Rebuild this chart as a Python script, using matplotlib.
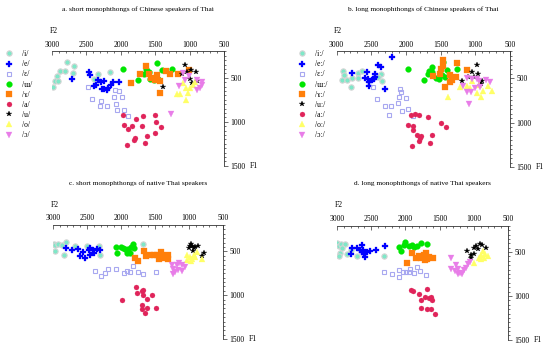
from matplotlib import pyplot as plt
from matplotlib.lines import Line2D
from matplotlib.ticker import MultipleLocator

plt.rcParams['font.family'] = ['Liberation Serif', 'DejaVu Serif']

# (F2, F1) pairs
# a. short monophthongs of Chinese speakers of Thai
a_i = [(2776, 318), (2683, 360), (2888, 424), (2810, 424), (2693, 443), (2927, 481), (2961, 538),
       (2912, 538), (2990, 606), (2328, 458), (2157, 432), (2391, 515)]
a_e = [(2459, 432), (2449, 466), (2703, 508), (2337, 519), (2366, 576), (2391, 595), (2289, 549),
       (2245, 538), (2279, 629), (2240, 621), (2206, 633), (2181, 610), (2142, 580), (2108, 545), (2030, 545)]
a_eh = [(2474, 602), (2420, 742), (2293, 761), (2303, 822), (2206, 822), (2084, 633), (2021, 648),
        (2098, 723), (1982, 716), (2069, 792), (2050, 867), (1952, 860), (1889, 936)]
a_ue = [(1962, 405), (1748, 527), (1670, 458), (1636, 394), (1621, 424), (1582, 515), (1523, 519),
        (1485, 489), (1465, 511), (1475, 330), (1402, 413), (1260, 405), (1587, 432)]
a_ou = [(1855, 557), (1718, 451), (1636, 367), (1562, 496), (1475, 462), (1499, 527), (1426, 534),
        (1436, 670), (1343, 424), (1280, 458), (1173, 451), (1017, 413), (1597, 458)]
a_a = [(1972, 917), (1777, 962), (1679, 936), (1509, 920), (1489, 1004), (1416, 1057), (1952, 1038),
       (1889, 1080), (1845, 1042), (1689, 1049), (1499, 1121), (1796, 1178), (1811, 1205), (1616, 1163),
       (1913, 1258), (1655, 1239)]
a_u = [(1075, 356), (978, 413), (914, 432), (1109, 458), (997, 508), (890, 538), (1392, 602),
       (968, 561), (1046, 436)]
a_o = [(1182, 678), (1148, 678), (1060, 610), (1026, 667), (997, 610), (1056, 746), (1095, 557),
       (949, 583), (924, 545)]
a_oh = [(1158, 595), (1095, 443), (1075, 527), (890, 527), (817, 545), (851, 610), (900, 640),
        (1270, 905), (1012, 474), (822, 583)]

# b. long monophthongs of Chinese speakers of Thai
b_i = [(2904, 416), (2899, 470), (2928, 523), (2856, 523), (2784, 500), (2697, 439), (2697, 500),
       (2793, 599), (2630, 424), (2361, 454), (2399, 492), (2351, 538)]
b_e = [(2784, 443), (2567, 432), (2553, 508), (2534, 546), (2486, 519), (2529, 584), (2457, 508),
       (2447, 454), (2447, 492), (2399, 356), (2361, 378), (2303, 622), (2207, 264), (2591, 500)]
b_eh = [(2481, 595), (2423, 736), (2303, 812), (2216, 815), (2245, 918), (2086, 622), (2101, 713),
        (2120, 785), (2005, 720), (2053, 872), (1966, 850), (1894, 929), (2072, 660)]
b_ue = [(1966, 394), (1740, 519), (1678, 454), (1630, 378), (1620, 432), (1572, 500), (1524, 508),
        (1476, 470), (1437, 492), (1471, 321), (1409, 405), (1269, 394), (1668, 416)]
b_ou = [(1471, 299), (1495, 397), (1510, 454), (1606, 481), (1461, 367), (1365, 462), (1341, 519),
        (1284, 485), (1269, 329), (1437, 595), (1365, 546), (1125, 405)]
b_a = [(1928, 918), (1870, 903), (1812, 914), (1687, 933), (1495, 1002), (1428, 1055), (1966, 1032),
       (1899, 1040), (1904, 1081), (1846, 1138), (1812, 1203), (1784, 1154), (1620, 1138), (1918, 1260),
       (1654, 1233), (1803, 1176)]
b_u = [(981, 348), (1053, 432), (957, 454), (1110, 485), (1187, 530), (909, 530), (918, 561), (1014, 492)]
b_o = [(1221, 595), (1125, 584), (1053, 538), (947, 576), (884, 644), (755, 644), (981, 663),
       (1077, 606), (1399, 709), (918, 713), (813, 584)]
b_oh = [(1125, 500), (1053, 511), (981, 511), (1173, 584), (1125, 652), (1063, 660), (1005, 614),
        (933, 599), (851, 519), (789, 546), (1091, 796), (947, 538)]

# c. short monophthongs of native Thai speakers
c_i = [(2990, 413), (2975, 432), (2921, 417), (2872, 424), (2813, 394), (2970, 500), (2838, 545),
       (2680, 439), (2498, 443), (2311, 538), (2321, 443), (1681, 420)]
c_e = [(2803, 458), (2715, 485), (2636, 477), (2557, 511), (2606, 557), (2528, 572), (2459, 545),
       (2478, 489), (2449, 462), (2409, 489), (2400, 515), (2346, 470), (2311, 481)]
c_eh = [(2380, 727), (2296, 780), (2232, 750), (2188, 697), (2075, 705), (1957, 743), (1917, 720),
        (1868, 739), (1829, 670), (1755, 739), (1671, 762), (1489, 731)]
c_ue = [(2075, 451), (2060, 515), (2006, 451), (1942, 477), (1908, 515), (1868, 523), (1858, 451),
        (1819, 417), (1804, 462), (1971, 462), (1902, 470)]
c_ou = [(1794, 576), (1745, 606), (1657, 500), (1632, 553), (1573, 545), (1514, 538), (1475, 545),
        (1416, 508), (1396, 545), (1367, 572), (1435, 583), (1302, 545), (1302, 591)]
c_a = [(1780, 906), (1770, 978), (1696, 947), (1672, 940), (1681, 1000), (1622, 1046), (1548, 1000),
       (1991, 1053), (1696, 1114), (1696, 1152), (1622, 1144), (1642, 1197), (1484, 1144)]
c_u = [(972, 413), (953, 439), (933, 462), (943, 492), (874, 439), (992, 443), (913, 451),
       (785, 515), (815, 553), (1007, 462)]
c_o = [(1032, 545), (992, 564), (958, 583), (933, 545), (884, 508), (908, 564), (972, 614),
       (815, 591), (1032, 602)]
c_oh = [(1253, 659), (1229, 697), (1179, 652), (1140, 629), (1105, 659), (1204, 735), (1155, 716),
        (1238, 758), (1105, 720), (1056, 678)]

# d. long monophthongs of native Thai speakers
d_i = [(2995, 394), (2976, 432), (2937, 405), (2888, 413), (2922, 458), (2961, 511), (2976, 549),
       (2849, 527), (2790, 481), (2703, 545), (2313, 545)]
d_e = [(2781, 458), (2790, 527), (2703, 451), (2664, 481), (2635, 420), (2635, 496), (2605, 519),
       (2596, 557), (2615, 481), (2522, 489), (2425, 481), (2303, 436), (2566, 496)]
d_eh = [(2313, 724), (2196, 754), (2089, 708), (2089, 784), (2035, 731), (1986, 724), (1947, 724),
        (1879, 743), (1933, 693), (1826, 670), (1792, 716), (1694, 762)]
d_ue = [(2099, 443), (2060, 489), (2021, 420), (2011, 383), (1943, 428), (1904, 420), (1874, 443),
        (1835, 428), (1777, 401), (1689, 413)]
d_ou = [(1972, 625), (1904, 511), (1840, 564), (1806, 545), (1767, 572), (1728, 534), (1694, 511),
        (1679, 583), (1660, 557), (1597, 572), (1718, 587)]
d_a = [(1913, 936), (1884, 943), (1806, 981), (1767, 1050), (1709, 1012), (1679, 925), (1660, 1027),
       (1621, 1012), (1611, 1050), (1767, 1141), (1689, 1144), (1631, 1148), (1562, 1201)]
d_u = [(1095, 489), (1046, 564), (997, 451), (963, 432), (914, 405), (880, 424), (817, 451),
       (997, 519), (1036, 534), (938, 470)]
d_o = [(929, 572), (900, 534), (866, 489), (832, 519), (792, 545), (851, 564), (997, 621), (890, 583)]
d_oh = [(1329, 564), (1339, 697), (1256, 648), (1280, 716), (1231, 697), (1202, 735), (1168, 754),
        (1144, 705), (1115, 686), (1085, 640), (1056, 617), (1231, 754)]

short_labels = ['/i/', '/e/', '/ɛ/', '/ɯ/', '/ɤ/', '/a/', '/u/', '/o/', '/ɔ/']
long_labels = ['/iː/', '/eː/', '/ɛː/', '/ɯː/', '/ɤː/', '/uː/', '/aː/', '/oː/', '/ɔː/']

# marker style per vowel (same order as the data lists)
styles = [
    dict(marker='o', color='#7fe8c8', mec='#d4d4d4', mew=0.8, ms=3.8),
    dict(marker='P', color='#0000ff', mec='#0000ff', mew=0.2, ms=4.2),
    dict(marker='s', color='none', mec='#a8a8f0', mew=0.8, ms=3.5),
    dict(marker='o', color='#00e600', mec='#00e600', mew=0.2, ms=4.2),
    dict(marker='s', color='#ff7f0a', mec='#ff7f0a', mew=0.2, ms=3.8),
    dict(marker='o', color='#e0245a', mec='#e0245a', mew=0.2, ms=3.6),
    dict(marker='*', color='#000000', mec='#000000', mew=0.2, ms=4.4),
    dict(marker='^', color='#ffff66', mec='#ffff66', mew=0.2, ms=4.0),
    dict(marker='v', color='#e87de8', mec='#e87de8', mew=0.2, ms=4.0),
]

panels = [
    ('a. short monophthongs of Chinese speakers of Thai', [a_i, a_e, a_eh, a_ue, a_ou, a_a, a_u, a_o, a_oh],
     [0.0945, 0.526, 0.313, 0.327]),
    ('b. long monophthongs of Chinese speakers of Thai', [b_i, b_e, b_eh, b_ue, b_ou, b_a, b_u, b_o, b_oh],
     [0.612, 0.523, 0.315, 0.330]),
    ('c. short monophthongs of native Thai speakers', [c_i, c_e, c_eh, c_ue, c_ou, c_a, c_u, c_o, c_oh],
     [0.0964, 0.031, 0.309, 0.326]),
    ('d. long monophthongs of native Thai speakers', [d_i, d_e, d_eh, d_ue, d_ou, d_a, d_u, d_o, d_oh],
     [0.6127, 0.029, 0.311, 0.326]),
]

fig = plt.figure(figsize=(5.5, 3.5), dpi=100)

for title, series, rect in panels:
    ax = fig.add_axes(rect)
    for pts, st in zip(series, styles):
        f2 = [p[0] for p in pts]
        f1 = [p[1] for p in pts]
        ax.plot(f2, f1, ls='none', **st)
    ax.set_xlim(3000, 500)
    ax.set_ylim(1500, 200)
    ax.spines['left'].set_visible(False)
    ax.spines['bottom'].set_visible(False)
    for s in ('top', 'right'):
        ax.spines[s].set_linewidth(0.6)
        ax.spines[s].set_color('#333333')
    ax.xaxis.tick_top()
    ax.yaxis.tick_right()
    ax.set_xticks([3000, 2500, 2000, 1500, 1000, 500])
    ax.set_yticks([500, 1000, 1500])
    ax.xaxis.set_minor_locator(MultipleLocator(100))
    ax.yaxis.set_minor_locator(MultipleLocator(50))
    ax.tick_params(axis='x', which='both', direction='in', labelsize=5.5, pad=2, width=0.5, color='#333333')
    ax.tick_params(axis='x', which='major', length=3)
    ax.tick_params(axis='x', which='minor', length=1.6)
    ax.tick_params(axis='y', which='both', direction='out', labelsize=5.5, pad=1.5, width=0.5, color='#333333')
    ax.tick_params(axis='y', which='major', length=3)
    ax.tick_params(axis='y', which='minor', length=1.6)
    ax.text(-0.015, 1.18, 'F2', transform=ax.transAxes, fontsize=5.5, ha='left', va='center')
    ax.text(1.15, 0.0, 'F1', transform=ax.transAxes, fontsize=5.5, ha='left', va='center')
    ax.text(0.5, 1.37, title, transform=ax.transAxes, fontsize=5.3, ha='center', va='center')

# legends for the upper two panels (long legend lists /uː/ before /aː/)
long_styles = styles[:5] + [styles[6], styles[5]] + styles[7:]
for labels, sty, anchor in [(short_labels, styles, (0.0, 0.872)), (long_labels, long_styles, (0.532, 0.872))]:
    handles = [Line2D([], [], ls='none', **st) for st in sty]
    fig.legend(handles, labels, loc='upper left', bbox_to_anchor=anchor, frameon=False,
               fontsize=5.5, handlelength=1.0, handletextpad=1.2, labelspacing=0.28,
               borderpad=0.2)

fig.savefig('out.png', dpi=100)
